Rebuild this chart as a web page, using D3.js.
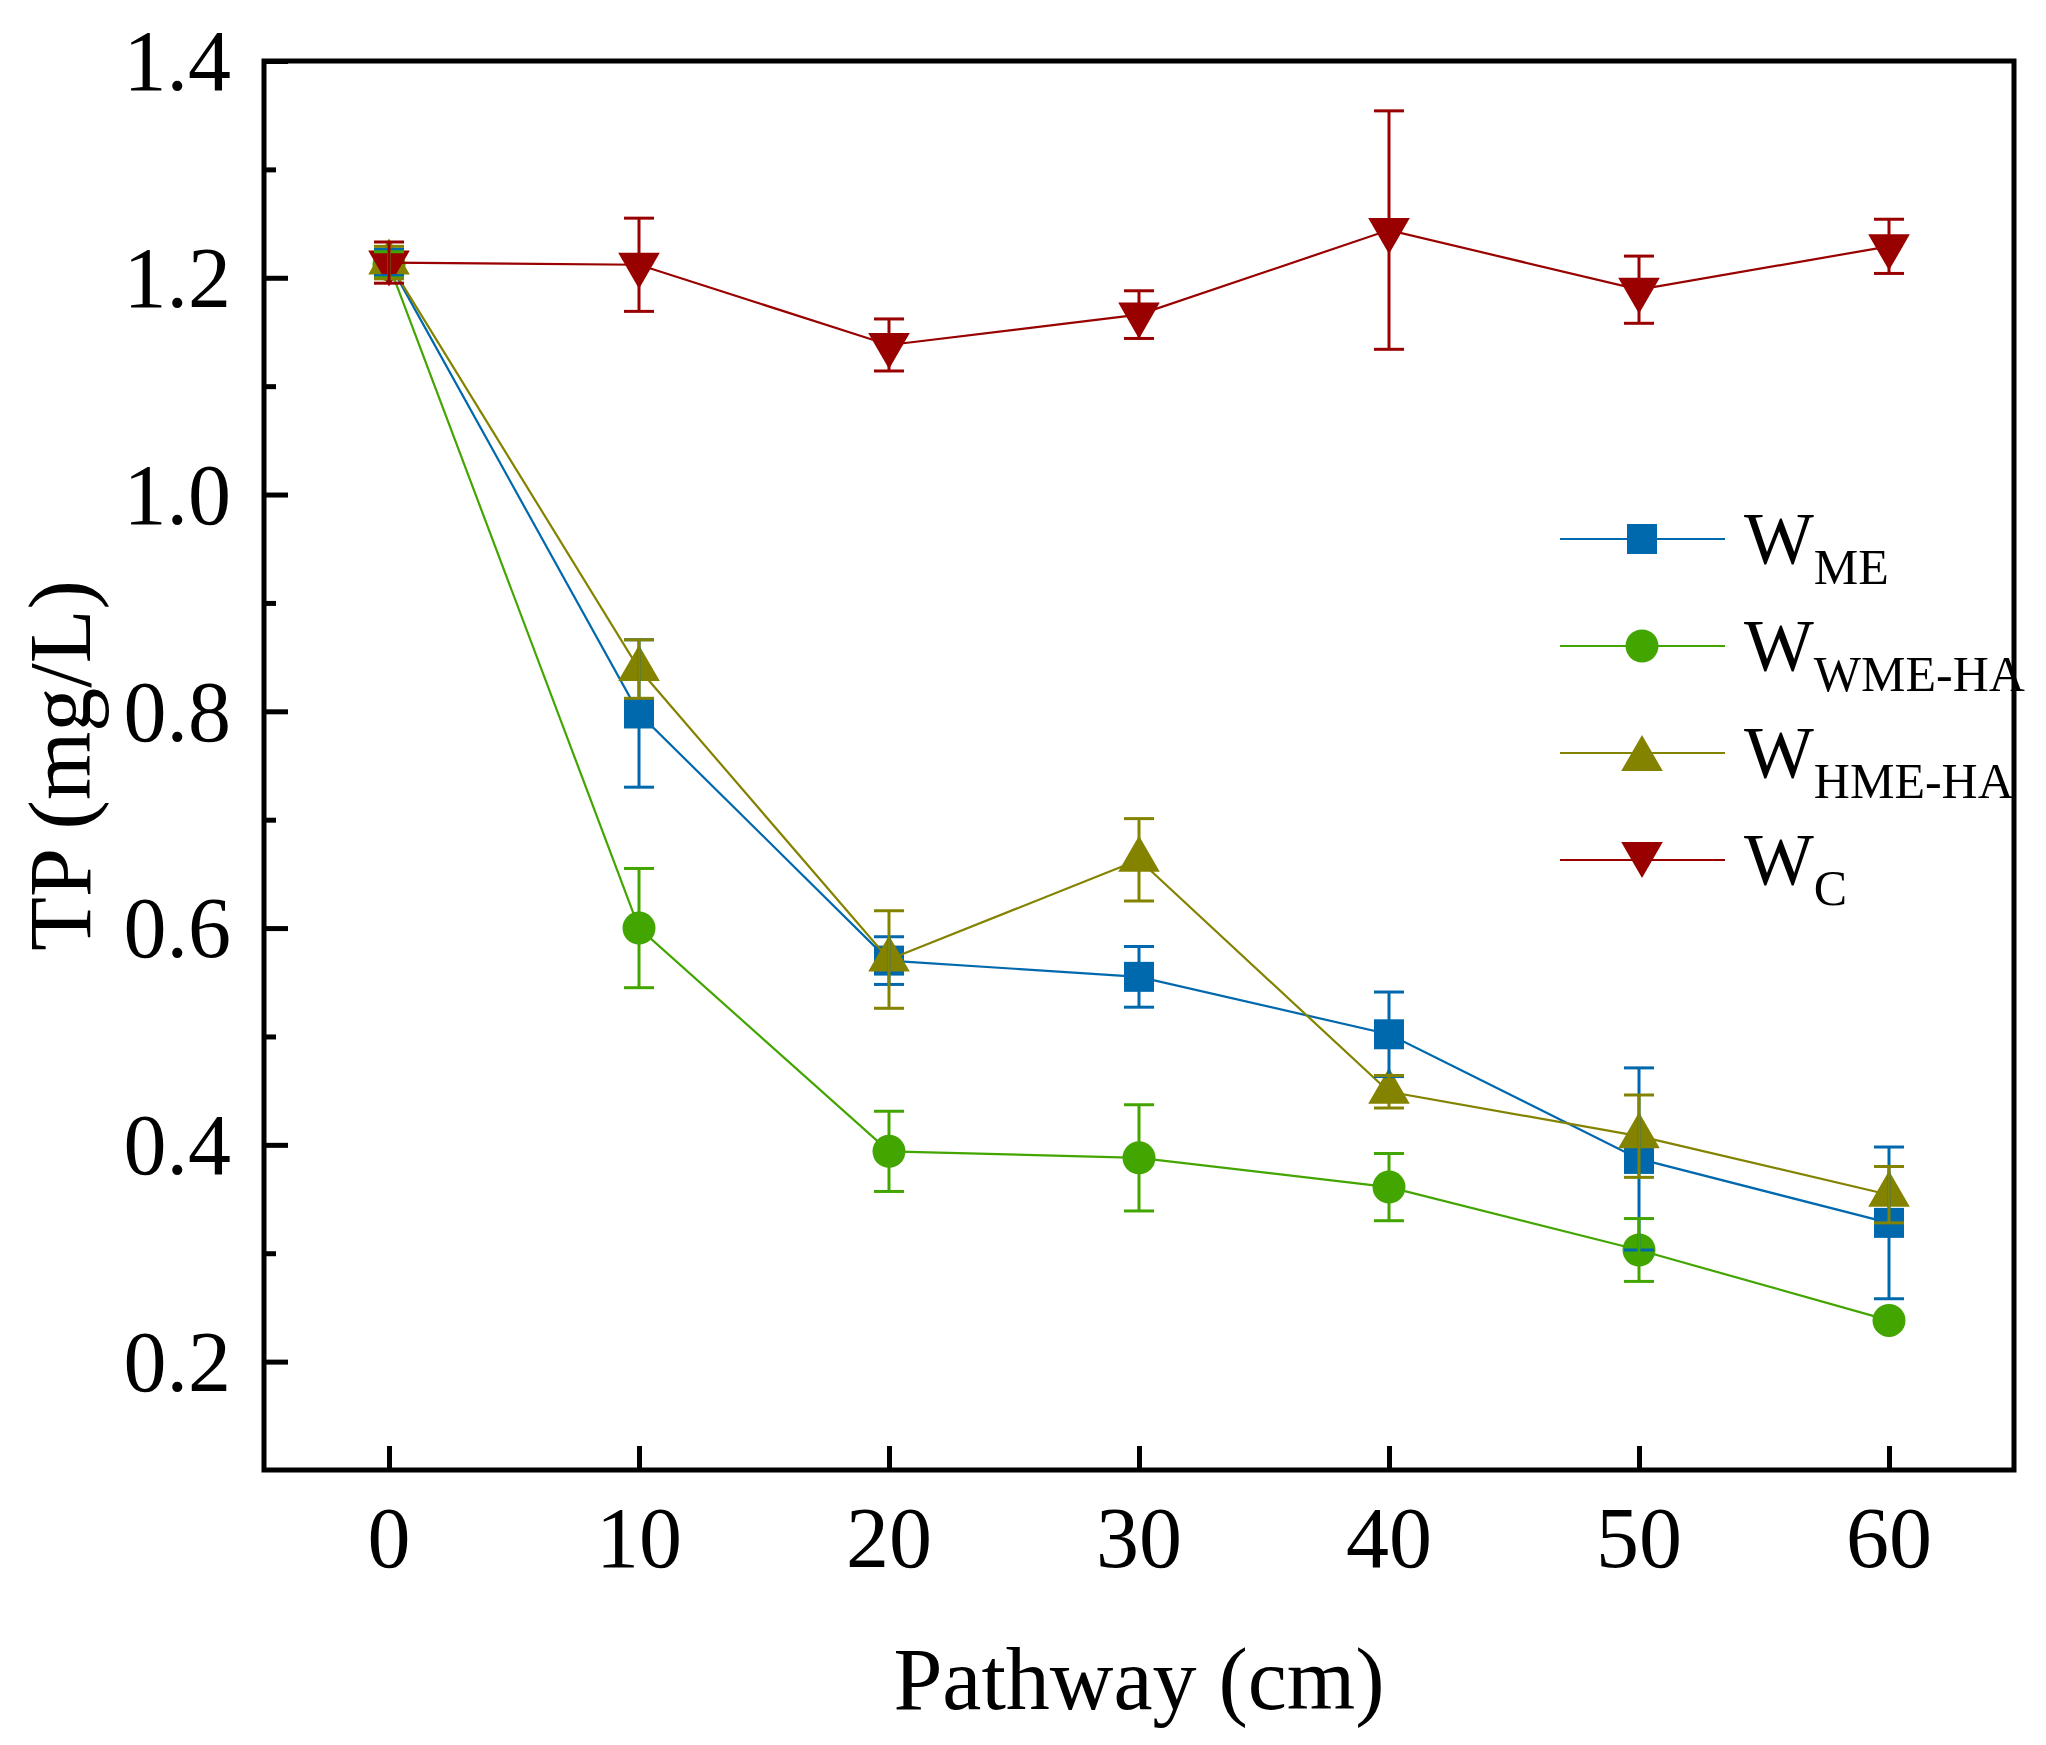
<!DOCTYPE html>
<html>
<head>
<meta charset="utf-8">
<script src="https://cdn.jsdelivr.net/npm/d3@7"></script>
<style>
  body { margin: 0; background: #fff; }
  text { font-family: "Liberation Serif", "Times New Roman", Times, serif; fill: #000; }
</style>
</head>
<body>
<div id="chart"></div>
<script>
// data
var pathway = [0, 10, 20, 30, 40, 50, 60]
var tp_ME = [1.214, 0.798, 0.570, 0.555, 0.502, 0.387, 0.328]
var err_ME = [0.012, 0.068, 0.022, 0.028, 0.039, 0.084, 0.070]
var tp_WME = [1.212, 0.600, 0.394, 0.388, 0.361, 0.303, 0.238]
var err_WME = [0.012, 0.055, 0.037, 0.049, 0.031, 0.029, 0.005]
var tp_HME = [1.214, 0.839, 0.571, 0.663, 0.449, 0.408, 0.354]
var err_HME = [0.015, 0.027, 0.045, 0.038, 0.015, 0.038, 0.026]
var tp_C = [1.214, 1.212, 1.138, 1.166, 1.244, 1.189, 1.229]
var err_C = [0.019, 0.043, 0.024, 0.022, 0.110, 0.031, 0.025]

var seriesNames = ["W", "W", "W", "W"]
var seriesSubs = ["ME", "WME-HA", "HME-HA", "C"]
var xTicks = [0, 10, 20, 30, 40, 50, 60]
var yTicks = [0.2, 0.4, 0.6, 0.8, 1.0, 1.2, 1.4]
var yMinor = [0.3, 0.5, 0.7, 0.9, 1.1, 1.3]

const W = 2046, H = 1745
const MARGIN = { LEFT: 264, RIGHT: 32, TOP: 61, BOTTOM: 275 }
const width = W - MARGIN.LEFT - MARGIN.RIGHT
const height = H - MARGIN.TOP - MARGIN.BOTTOM

const series = [
  { vals: tp_ME, err: err_ME, color: "#0068ad", shape: "square" },
  { vals: tp_WME, err: err_WME, color: "#43a500", shape: "circle" },
  { vals: tp_HME, err: err_HME, color: "#838300", shape: "up" },
  { vals: tp_C, err: err_C, color: "#990000", shape: "down" }
]

const svg = d3.select("#chart")
  .append("svg")
  .attr("width", W)
  .attr("height", H)
svg.append("rect").attr("width", W).attr("height", H).attr("fill", "#fff")

const g = svg.append("g")
  .attr("transform", "translate(" + MARGIN.LEFT + "," + MARGIN.TOP + ")")

var xScale = d3.scaleLinear().domain([-5, 65]).range([0, width])
var yScale = d3.scaleLinear().domain([0.1, 1.4]).range([height, 0])

function symbolPath(shape) {
  if (shape == "square") return d3.symbol(d3.symbolSquare, 900)()
  if (shape == "circle") return d3.symbol(d3.symbolCircle, 855)()
  return d3.symbol(d3.symbolTriangle, 750)()
}

// x axis ticks (inside) and labels
var xAxis = g.append("g").attr("transform", "translate(0," + height + ")")
xAxis.call(d3.axisBottom(xScale).tickValues(xTicks).tickSize(-24).tickFormat(""))
xAxis.select(".domain").remove()
xAxis.selectAll(".tick line").attr("stroke", "#000").attr("stroke-width", 5)
xAxis.selectAll(".lab")
  .data(xTicks)
  .enter()
  .append("text")
  .attr("x", d => xScale(d))
  .attr("y", 1567 - MARGIN.TOP - height)
  .attr("text-anchor", "middle")
  .style("font-size", "86px")
  .text(d => d)

// y axis
var yAxis = g.append("g")
yAxis.call(d3.axisLeft(yScale).tickValues(yTicks).tickSize(-24).tickFormat(""))
yAxis.select(".domain").remove()
yAxis.selectAll(".tick line").attr("stroke", "#000").attr("stroke-width", 5)
var yAxisMinor = g.append("g")
yAxisMinor.call(d3.axisLeft(yScale).tickValues(yMinor).tickSize(-12).tickFormat(""))
yAxisMinor.select(".domain").remove()
yAxisMinor.selectAll(".tick line").attr("stroke", "#000").attr("stroke-width", 5)
yAxis.selectAll(".lab")
  .data(yTicks)
  .enter()
  .append("text")
  .attr("x", 231 - MARGIN.LEFT)
  .attr("y", d => yScale(d))
  .attr("dy", "0.34em")
  .attr("text-anchor", "end")
  .style("font-size", "86px")
  .text(d => d3.format(".1f")(d))

// frame
g.append("rect")
  .attr("width", width)
  .attr("height", height)
  .attr("fill", "none")
  .attr("stroke", "#000")
  .attr("stroke-width", 5)

// axis titles
svg.append("text")
  .attr("x", MARGIN.LEFT + width / 2)
  .attr("y", 1709)
  .attr("text-anchor", "middle")
  .style("font-size", "88px")
  .text("Pathway (cm)")
svg.append("text")
  .attr("transform", "translate(90," + (MARGIN.TOP + height / 2) + ") rotate(-90)")
  .attr("text-anchor", "middle")
  .style("font-size", "88px")
  .text("TP (mg/L)")

// lines and markers
var line = d3.line()
  .x((d, i) => xScale(pathway[i]))
  .y(d => yScale(d))

series.forEach(function(s) {
  var sg = g.append("g")
  sg.append("path")
    .attr("d", line(s.vals))
    .attr("fill", "none")
    .attr("stroke", s.color)
    .attr("stroke-width", 2.2)
  sg.selectAll("path.mark")
    .data(s.vals)
    .enter()
    .append("path")
    .attr("class", "mark")
    .attr("d", symbolPath(s.shape))
    .attr("transform", (d, i) => "translate(" + xScale(pathway[i]) + "," + yScale(d) + ")" + (s.shape == "down" ? " rotate(180)" : ""))
    .attr("fill", s.color)
})

// error bars on top
series.forEach(function(s) {
  var eg = g.append("g").attr("stroke", s.color).attr("stroke-width", 3)
  s.vals.forEach(function(v, i) {
    var x = xScale(pathway[i])
    var y1 = yScale(v + s.err[i]), y2 = yScale(v - s.err[i])
    eg.append("line").attr("x1", x).attr("x2", x).attr("y1", y1).attr("y2", y2)
    eg.append("line").attr("x1", x - 15).attr("x2", x + 15).attr("y1", y1).attr("y2", y1)
    eg.append("line").attr("x1", x - 15).attr("x2", x + 15).attr("y1", y2).attr("y2", y2)
  })
})

// legend
var legendY = [539, 646, 753, 860]
var legend = svg.append("g")
series.forEach(function(s, i) {
  var ly = legendY[i]
  legend.append("line")
    .attr("x1", 1560).attr("x2", 1725)
    .attr("y1", ly).attr("y2", ly)
    .attr("stroke", s.color)
    .attr("stroke-width", 2.2)
  legend.append("path")
    .attr("d", symbolPath(s.shape))
    .attr("transform", "translate(1642," + (ly + (s.shape == "up" ? 6 : s.shape == "down" ? -6 : 0)) + ")" + (s.shape == "down" ? " rotate(180)" : ""))
    .attr("fill", s.color)
  var t = legend.append("text")
    .attr("x", 1744)
    .attr("y", ly + 25)
    .style("font-size", "74px")
  t.append("tspan").text(seriesNames[i])
  t.append("tspan")
    .attr("dy", 20)
    .style("font-size", "50px")
    .text(seriesSubs[i])
})
</script>
</body>
</html>
